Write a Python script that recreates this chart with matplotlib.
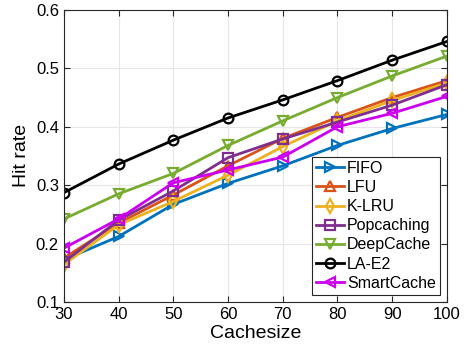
import matplotlib
matplotlib.use("Agg")
import matplotlib.pyplot as plt

plt.rcParams['font.family'] = ['Liberation Sans', 'DejaVu Sans']

cache_sizes = [30, 40, 50, 60, 70, 80, 90, 100]

fifo = [0.172, 0.212, 0.267, 0.303, 0.333, 0.368, 0.397, 0.421]
lfu = [0.175, 0.235, 0.283, 0.333, 0.380, 0.416, 0.450, 0.479]
klru = [0.164, 0.232, 0.272, 0.317, 0.366, 0.410, 0.445, 0.475]
popcaching = [0.168, 0.240, 0.290, 0.347, 0.379, 0.408, 0.437, 0.472]
deepcache = [0.242, 0.285, 0.320, 0.368, 0.410, 0.450, 0.487, 0.521]
lae2 = [0.287, 0.336, 0.377, 0.415, 0.446, 0.479, 0.514, 0.546]
smartcache = [0.192, 0.242, 0.304, 0.326, 0.348, 0.400, 0.423, 0.452]

series = [
    ("FIFO", fifo, "#0072BD", ">"),
    ("LFU", lfu, "#D95319", "^"),
    ("K-LRU", klru, "#EDB120", "d"),
    ("Popcaching", popcaching, "#7E2F8E", "s"),
    ("DeepCache", deepcache, "#77AC30", "v"),
    ("LA-E2", lae2, "#000000", "o"),
    ("SmartCache", smartcache, "#CC00EE", "<"),
]

fig = plt.figure(figsize=(4.66, 3.56), dpi=100)
ax = fig.add_axes([0.137, 0.152, 0.822, 0.820])

for name, vals, col, mk in series:
    ax.plot(cache_sizes, vals, color=col, marker=mk, markersize=7,
            markerfacecolor="none", markeredgewidth=1.6, linewidth=2, label=name)

ax.set_xlim(30, 100)
ax.set_ylim(0.1, 0.6)
ax.set_xticks(range(30, 101, 10))
ax.set_yticks([0.1, 0.2, 0.3, 0.4, 0.5, 0.6])
ax.grid(True, color="#e6e6e6", linewidth=0.8)
ax.set_axisbelow(True)
ax.tick_params(direction="in", labelsize=12, top=True, right=True, length=4, color="#262626")
for sp in ax.spines.values():
    sp.set_color("#262626")
    sp.set_linewidth(0.8)
ax.set_xlabel("Cachesize", fontsize=14, labelpad=2)
ax.set_ylabel("Hit rate", fontsize=14, labelpad=4)

leg = ax.legend(loc="lower right", fontsize=11.5, fancybox=False, framealpha=1,
                edgecolor="#262626", handlelength=1.7, handletextpad=0.2,
                labelspacing=0.26, borderpad=0.25, borderaxespad=0.45)
leg.get_frame().set_linewidth(0.8)

fig.savefig("out.png", dpi=100)
